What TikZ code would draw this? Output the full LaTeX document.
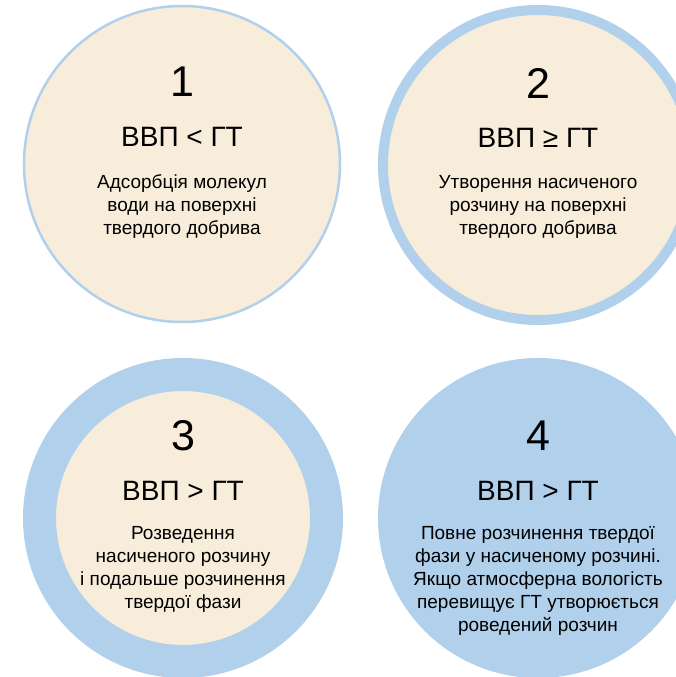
\documentclass[tikz,border=0pt]{standalone}
\usepackage{fontspec}
\setmainfont{Liberation Sans}
\usetikzlibrary{positioning}

\definecolor{sky}{HTML}{B0D0EC}
\definecolor{cream}{HTML}{F8EDDA}

\tikzset{
  stage/.style={circle, inner sep=0pt, outer sep=0pt},
  num/.style={font=\fontsize{43}{46}\selectfont},
  cond/.style={font=\fontsize{28}{30}\selectfont},
  note/.style={font=\fontsize{19}{23}\selectfont, align=center, anchor=north}
}

\begin{document}
\begin{tikzpicture}[x=1pt,y=1pt]
\useasboundingbox (0,0) rectangle (676,-677);

% the four stages
\node[stage, fill=cream, draw=sky, line width=2.5pt, minimum size=316pt] (s1) at (182,-164) {};
\node[stage, fill=cream, draw=sky, line width=10pt, minimum size=310pt] (s2) at (538,-165) {};
\node[stage, fill=cream, draw=sky, line width=33pt, minimum size=287pt] (s3) at (183,-518) {};
\node[stage, fill=sky, minimum size=320pt] (s4) at (538,-518) {};

% numbers and conditions
\foreach \s/\n/\c in {s1/1/{ВВП < ГТ},s2/2/{ВВП ≥ ГТ},s3/3/{ВВП > ГТ},s4/4/{ВВП > ГТ}}
{
  \node[num] (\s n) at ([yshift=82pt]\s.center) {\n};
  \node[cond] (\s c) at ([yshift=27pt]\s.center) {\c};
}

% descriptions
\node[note] (s1d) at ([yshift=-7pt]s1.center)
  {Адсорбція молекул\\води на поверхні\\твердого добрива};
\node[note] (s2d) at ([yshift=-7pt]s2.center)
  {Утворення насиченого\\розчину на поверхні\\твердого добрива};
\node[note] (s3d) at ([yshift=-5pt]s3.center)
  {Розведення\\насиченого розчину\\і подальше розчинення\\твердої фази};
\node[note] (s4d) at ([yshift=-5pt]s4.center)
  {Повне розчинення твердої\\фази у насиченому розчині.\\Якщо атмосферна вологість\\перевищує ГТ утворюється\\роведений розчин};
\end{tikzpicture}
\end{document}
